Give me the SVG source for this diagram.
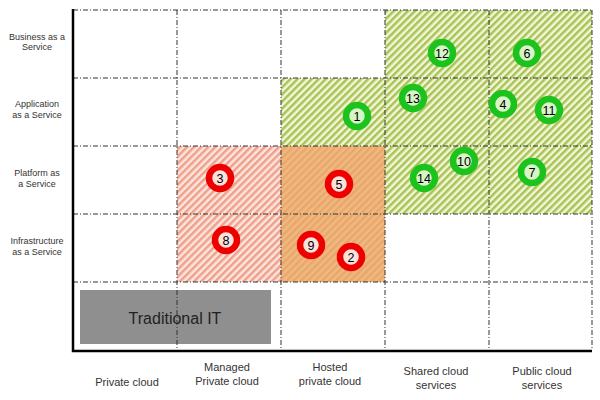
<svg xmlns="http://www.w3.org/2000/svg" width="600" height="400" viewBox="0 0 600 400">
<defs>
<pattern id="hGreen" patternUnits="userSpaceOnUse" width="5" height="5" patternTransform="rotate(45)">
<rect width="5" height="5" fill="#f2f6dc"/><rect width="2.5" height="5" fill="#a9c452"/>
</pattern>
<pattern id="hRed" patternUnits="userSpaceOnUse" width="5" height="5" patternTransform="rotate(45)">
<rect width="5" height="5" fill="#fbe6df"/><rect width="2.5" height="5" fill="#f0a08a"/>
</pattern>
<pattern id="hOrange" patternUnits="userSpaceOnUse" width="5" height="5" patternTransform="rotate(45)">
<rect width="5" height="5" fill="#ebbb80"/><rect width="2.5" height="5" fill="#eda56c"/>
</pattern>
</defs>
<style>
.grid{stroke:#333;stroke-width:1;stroke-dasharray:5,2,1,2;fill:none}
.axis{stroke:#000;stroke-width:2.5;fill:none}
.lbl{font-family:"Liberation Sans",Arial,sans-serif;font-size:9px;fill:#333;text-anchor:middle}
.col{font-family:"Liberation Sans",Arial,sans-serif;font-size:11px;fill:#333;text-anchor:middle}
.r circle{fill:#fbe3dc;stroke:#ee0000;stroke-width:6.5}
.g circle{fill:#d8f5c8;stroke:#1dc31d;stroke-width:6.5}
.num{font-family:"Liberation Sans",Arial,sans-serif;font-size:12.5px;fill:#000;text-anchor:middle}
</style>
<rect width="600" height="400" fill="#fff"/>
<g id="regions">
<rect x="385" y="10" width="207" height="204" fill="url(#hGreen)"/>
<rect x="281" y="78" width="104" height="68" fill="url(#hGreen)"/>
<rect x="177" y="146" width="104" height="136" fill="url(#hRed)"/>
<rect x="281" y="146" width="104" height="136" fill="url(#hOrange)"/>
</g>
<g id="traditional-it">
<rect x="80" y="290" width="191" height="54" fill="#8f8f8f"/>
<text x="175" y="324" font-family="'Liberation Sans',Arial,sans-serif" font-size="16" fill="#222" text-anchor="middle">Traditional IT</text>
</g>
<g id="connectors">
<path class="grid" d="M73 10H592M73 78H592M73 146H592M73 214H592M73 282H592M177 10V350M281 10V350M385 10V350M489 10V350M592 10V350"/>
<path class="axis" d="M73 9V351H592"/>
</g>
<g id="row-labels">
<text class="lbl" x="37" y="40">Business as a</text><text class="lbl" x="37" y="50">Service</text>
<text class="lbl" x="37" y="107">Application</text><text class="lbl" x="37" y="118">as a Service</text>
<text class="lbl" x="37" y="176">Platform as</text><text class="lbl" x="37" y="187">a Service</text>
<text class="lbl" x="37" y="244">Infrastructure</text><text class="lbl" x="37" y="255">as a Service</text>
</g>
<g id="col-labels">
<text class="col" x="127" y="386">Private cloud</text>
<text class="col" x="227" y="371">Managed</text><text class="col" x="227" y="385">Private cloud</text>
<text class="col" x="330" y="371">Hosted</text><text class="col" x="330" y="385">private cloud</text>
<text class="col" x="436" y="375">Shared cloud</text><text class="col" x="436" y="389">services</text>
<text class="col" x="542" y="375">Public cloud</text><text class="col" x="542" y="389">services</text>
</g>
<g id="n3" class="r"><circle cx="220" cy="178" r="11"/><text class="num" x="220" y="182.5">3</text></g>
<g id="n5" class="r"><circle cx="339" cy="184" r="11"/><text class="num" x="339" y="188.5">5</text></g>
<g id="n8" class="r"><circle cx="226" cy="240" r="11"/><text class="num" x="226" y="244.5">8</text></g>
<g id="n9" class="r"><circle cx="311" cy="245" r="11"/><text class="num" x="311" y="249.5">9</text></g>
<g id="n2" class="r"><circle cx="351" cy="257" r="11"/><text class="num" x="351" y="261.5">2</text></g>
<g id="n12" class="g"><circle cx="442" cy="53" r="11"/><text class="num" x="442" y="57.5">12</text></g>
<g id="n6" class="g"><circle cx="527" cy="53" r="11"/><text class="num" x="527" y="57.5">6</text></g>
<g id="n13" class="g"><circle cx="413" cy="98" r="11"/><text class="num" x="413" y="102.5">13</text></g>
<g id="n4" class="g"><circle cx="503" cy="104" r="11"/><text class="num" x="503" y="108.5">4</text></g>
<g id="n11" class="g"><circle cx="549" cy="110" r="11"/><text class="num" x="549" y="114.5">11</text></g>
<g id="n10" class="g"><circle cx="464" cy="161" r="11"/><text class="num" x="464" y="165.5">10</text></g>
<g id="n14" class="g"><circle cx="424" cy="178" r="11"/><text class="num" x="424" y="182.5">14</text></g>
<g id="n7" class="g"><circle cx="532" cy="172" r="11"/><text class="num" x="532" y="176.5">7</text></g>
<g id="n1" class="g"><circle cx="357" cy="116" r="11"/><text class="num" x="357" y="120.5">1</text></g>
</svg>
